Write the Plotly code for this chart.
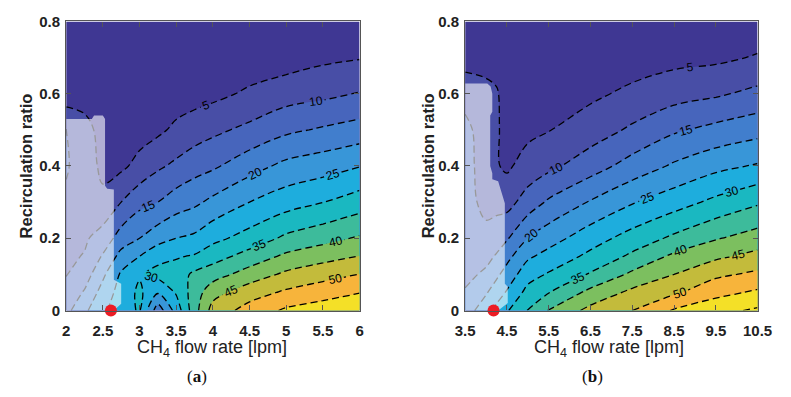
import numpy as np
import plotly.graph_objects as go

# ---------------- data ----------------
# Panel (a): CH4 flow rate 2..6 lpm
x_a = [2.0, 2.25, 2.5, 2.75, 3.0, 3.25, 3.5, 3.75, 4.0, 4.5, 5.0, 5.5, 6.0]
y_grid = [0.0, 0.05, 0.1, 0.15, 0.2, 0.3, 0.4, 0.5, 0.6, 0.7, 0.8]
# one list per x value (values from y=0 up to y=0.8)
za_cols = [
    [13.5, 11.5, 9.8, 9.0, 9.0, 9.5, 10.3, 10.2, 2.0, 1.5, 1.0],
    [19.0, 15.5, 12.5, 10.3, 9.3, 8.5, 8.5, 7.0, 2.5, 1.5, 1.0],
    [24.0, 22.0, 19.0, 15.5, 12.0, 6.5, 3.5, 3.0, 1.5, 1.2, 1.0],
    [28.0, 27.0, 25.7, 21.7, 17.3, 10.0, 4.0, 2.0, 1.5, 1.2, 1.0],
    [30.5, 31.0, 29.5, 25.0, 20.0, 13.5, 6.5, 3.0, 1.5, 1.2, 1.0],
    [17.0, 25.5, 31.5, 28.5, 23.0, 15.0, 9.2, 4.0, 2.0, 1.2, 1.0],
    [27.0, 30.5, 32.5, 29.5, 25.0, 17.5, 11.0, 6.0, 2.5, 1.2, 1.0],
    [38.0, 37.5, 36.0, 30.5, 26.0, 19.0, 13.0, 7.5, 3.0, 1.5, 1.0],
    [47.0, 43.1, 37.8, 32.9, 28.6, 21.2, 14.2, 8.9, 3.7, 1.5, 1.0],
    [52.0, 47.8, 42.2, 37.0, 32.0, 25.0, 18.0, 11.2, 5.8, 2.0, 1.0],
    [55.8, 50.8, 46.0, 41.0, 36.0, 27.8, 21.3, 14.0, 7.8, 2.5, 1.0],
    [57.5, 52.9, 48.1, 43.2, 38.3, 29.9, 22.8, 15.6, 8.8, 4.0, 1.0],
    [59.5, 54.8, 50.1, 45.1, 40.6, 32.5, 24.8, 17.0, 10.3, 4.7, 1.5],
]

# Panel (b): CH4 flow rate 3.5..10.5 lpm
x_b = [3.5, 4.0, 4.25, 4.5, 5.0, 5.5, 6.5, 7.5, 8.5, 9.5, 10.5]
zb_cols = [
    [17.5, 15.5, 13.5, 12.5, 12.0, 12.0, 12.0, 11.5, 8.0, 3.0, 1.5],
    [23.0, 19.5, 16.0, 13.5, 11.5, 8.5, 7.5, 7.2, 6.5, 3.0, 1.5],
    [26.5, 22.5, 19.0, 15.5, 12.5, 8.5, 5.4, 5.6, 5.6, 2.5, 1.2],
    [29.5, 25.5, 22.0, 18.5, 14.5, 8.2, 4.2, 3.5, 2.5, 1.5, 1.0],
    [35.2, 31.6, 28.0, 24.2, 20.0, 12.2, 7.0, 3.8, 2.0, 1.5, 1.0],
    [40.3, 34.8, 30.5, 26.7, 22.9, 15.7, 8.8, 4.8, 2.5, 1.5, 1.0],
    [46.5, 41.4, 35.5, 31.2, 27.8, 20.4, 12.7, 7.5, 4.0, 2.0, 1.0],
    [50.0, 46.2, 41.0, 36.0, 32.0, 24.6, 17.0, 10.8, 6.1, 2.5, 1.0],
    [55.5, 49.2, 45.0, 41.0, 36.0, 27.8, 20.7, 14.3, 8.0, 3.5, 1.5],
    [58.5, 53.4, 49.0, 44.0, 39.6, 31.2, 23.6, 16.4, 9.3, 4.0, 1.5],
    [60.8, 55.8, 51.0, 46.5, 42.2, 34.3, 25.5, 18.2, 11.3, 5.4, 2.0],
]

# infeasible (shaded) regions
shade_a_x = [2.0, 2.0, 2.35, 2.38, 2.5, 2.53, 2.53, 2.56, 2.65, 2.65, 2.75, 2.75, 2.65]
shade_a_y = [0.0, 0.53, 0.53, 0.54, 0.54, 0.53, 0.345, 0.337, 0.335, 0.085, 0.074, 0.019, 0.0]
shade_b_x = [3.5, 3.5, 4.03, 4.11, 4.15, 4.15, 4.1, 4.1, 4.15, 4.15, 4.29, 4.38, 4.45, 4.45, 4.52, 4.52, 4.29]
shade_b_y = [0.0, 0.628, 0.628, 0.62, 0.6, 0.55, 0.54, 0.4, 0.38, 0.363, 0.358, 0.323, 0.297, 0.074, 0.066, 0.021, 0.0]

# operating points (red dots)
point_a = (2.61, 0.0)
point_b = (4.18, 0.0)

xticks_a = [2, 2.5, 3, 3.5, 4, 4.5, 5, 5.5, 6]
xticks_b = [3.5, 4.5, 5.5, 6.5, 7.5, 8.5, 9.5, 10.5]
yticks = [0, 0.2, 0.4, 0.6, 0.8]

# band colours: <5, 5-10, ..., 55-60, >60
band_colors = ['#3f3793', '#484ea6', '#4765bc', '#417ecd', '#3896d8', '#1eaddd',
               '#1ab8c1', '#3dbb9b', '#7cbf5f', '#c3bb3b', '#f7b43b', '#f4e027', '#f4e027']

# ---------------- figure ----------------
W, H = 791, 397

def px_x(X):
    return X / W

def px_y(Y):
    return (H - Y) / H

cs = [[i / (len(band_colors) - 1), c] for i, c in enumerate(band_colors)]

z_a = np.array(za_cols).T
z_b = np.array(zb_cols).T

fig = go.Figure()

def add_panel(xv, zv, xa, ya, sx, sy, pt):
    fig.add_trace(go.Contour(
        x=xv, y=y_grid, z=zv, xaxis=xa, yaxis=ya,
        autocontour=False,
        contours=dict(start=5, end=60, size=5, coloring='fill', showlabels=True,
                      labelfont=dict(family='Liberation Sans, Arial', size=12, color='black')),
        colorscale=cs, showscale=False,
        line=dict(color='black', width=1.3, dash='7px,4px', smoothing=1.0),
        hoverinfo='skip'))
    fig.add_trace(go.Scatter(
        x=sx, y=sy, xaxis=xa, yaxis=ya, mode='lines', fill='toself',
        fillcolor='rgba(255,255,255,0.6)', line=dict(width=0), hoverinfo='skip',
        showlegend=False))
    fig.add_trace(go.Scatter(
        x=[pt[0]], y=[pt[1]], xaxis=xa, yaxis=ya, mode='markers',
        marker=dict(size=12, color='#ec1c24'), cliponaxis=False,
        hoverinfo='skip', showlegend=False))

add_panel(x_a, z_a, 'x', 'y', shade_a_x, shade_a_y, point_a)
add_panel(x_b, z_b, 'x2', 'y2', shade_b_x, shade_b_y, point_b)

tickfont = dict(family='Liberation Sans, Arial', size=15, color='#222222', weight='bold')
axis_common = dict(showgrid=False, zeroline=False, showline=True, mirror='allticks',
                   linecolor='#555555', linewidth=1.2, ticks='inside', ticklen=5,
                   tickcolor='#555555', tickfont=tickfont)

ydom = [px_y(315), px_y(13)]
fig.update_layout(
    width=W, height=H, margin=dict(l=0, r=0, t=0, b=0),
    paper_bgcolor='white', plot_bgcolor='white', showlegend=False,
    xaxis=dict(domain=[px_x(58), px_x(361)], range=[2, 6], tickvals=xticks_a,
               anchor='y', ticklabelstandoff=6, **axis_common),
    yaxis=dict(domain=ydom, range=[0, 0.8], tickvals=yticks, anchor='x',
               ticklabelstandoff=2, **axis_common),
    xaxis2=dict(domain=[px_x(470), px_x(772)], range=[3.5, 10.5], tickvals=xticks_b,
                anchor='y2', ticklabelstandoff=6, **axis_common),
    yaxis2=dict(domain=ydom, range=[0, 0.8], tickvals=yticks, anchor='x2',
                ticklabelstandoff=2, **axis_common),
)

ytitle_font = dict(family='Liberation Sans, Arial', size=16.5, color='#222222', weight='bold')
xtitle_font = dict(family='Liberation Sans, Arial', size=18, color='#222222')
cap_font = dict(family='Liberation Serif, Times New Roman', size=17, color='#111111')
ann = []
for xpx in (17, 432):
    ann.append(dict(text='Recirculation ratio', x=px_x(xpx), y=px_y(164), xref='paper',
                    yref='paper', textangle=-90, showarrow=False, font=ytitle_font,
                    xanchor='center', yanchor='middle'))
for xpx in (209, 619):
    ann.append(dict(text='CH<sub>4</sub> flow rate [lpm]', x=px_x(xpx), y=px_y(355),
                    xref='paper', yref='paper', showarrow=False, font=xtitle_font,
                    xanchor='center', yanchor='middle'))
for xpx, lab in ((193, '(<b>a</b>)'), (602, '(<b>b</b>)')):
    ann.append(dict(text=lab, x=px_x(xpx), y=px_y(384), xref='paper', yref='paper',
                    showarrow=False, font=cap_font, xanchor='center', yanchor='middle'))
fig.update_layout(annotations=ann)

fig.write_html("out.html")
